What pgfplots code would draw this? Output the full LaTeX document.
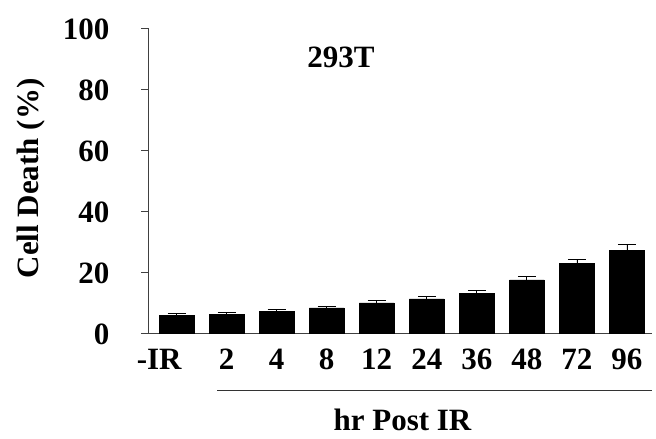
\documentclass[border=0pt]{standalone}
\usepackage{fontspec}
\setmainfont{Liberation Serif}
\usepackage{pgfplots}
\pgfplotsset{compat=1.18}
\newcommand{\lf}{\fontsize{31bp}{34bp}\selectfont\bfseries}
\begin{document}
\lf
\begin{tikzpicture}
\begin{axis}[
  scale only axis,
  width=504bp, height=305bp,
  xmin=-0.57, xmax=9.5, ymin=0, ymax=100,
  axis lines*=left,
  axis line style={line width=0.8bp, black!75},
  xtick={0,...,9},
  xticklabels={\makebox[0pt][r]{-IR\kern-5bp},2,4,8,12,24,36,48,72,96},
  xtick style={draw=none},
  ytick={0,20,40,60,80,100},
  tick align=outside,
  major tick length=7bp,
  ytick style={line width=0.8bp, black!75},
  /pgf/number format/assume math mode=true,
  ticklabel style={font=\lf},
  xticklabel style={yshift=1.5bp},
  yticklabel style={xshift=-21bp, yshift=-1bp},
  ylabel={Cell Death (\%)},
  ylabel style={at={(axis description cs:-0.233,0.5066)}, anchor=center, font=\lf},
  clip=false,
]
\addplot[ybar, bar width=34.7bp, fill=black, draw=black,
  error bars/.cd, y dir=plus, y explicit,
  error bar style={line width=0.8bp, black},
  error mark options={rotate=90, mark size=9bp, line width=0.8bp, black}]
  coordinates {
  (0,5.9) +- (0,0.5)
  (1,6.2) +- (0,0.6)
  (2,7.2) +- (0,0.5)
  (3,8.2) +- (0,0.5)
  (4,9.9) +- (0,0.8)
  (5,11.2) +- (0,0.7)
  (6,12.9) +- (0,1.1)
  (7,17.4) +- (0,1.1)
  (8,22.9) +- (0,1.3)
  (9,27.2) +- (0,1.9)
  };
\node[font=\lf] at (axis description cs:0.383,0.905) {293T};
\draw[line width=0.8bp, black!80] (axis description cs:0.137,-0.187) -- (axis description cs:1,-0.187);
\node[font=\lf] at (axis description cs:0.505,-0.285) {hr Post IR};
\coordinate (bbll) at (axis description cs:-0.29365,-0.34754);
\coordinate (bbur) at (axis description cs:1.00794,1.09180);
\end{axis}
\pgfresetboundingbox
\useasboundingbox (bbll) rectangle (bbur);
\end{tikzpicture}
\end{document}
